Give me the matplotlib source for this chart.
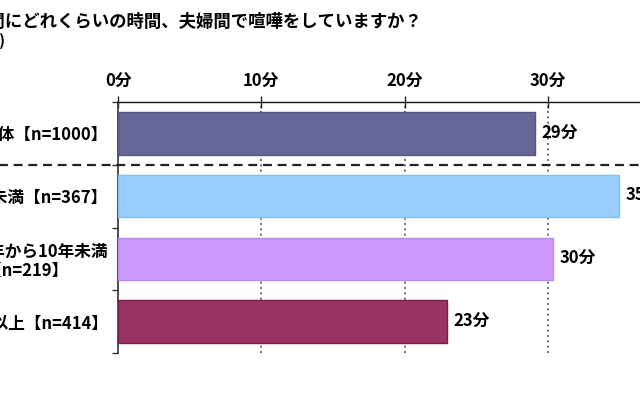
import matplotlib
matplotlib.use("Agg")
import matplotlib.pyplot as plt
from matplotlib.ticker import FixedLocator

plt.rcParams['font.family'] = ['Noto Sans CJK JP', 'DejaVu Sans']

# ---- data ----
categories = ["全体【n=1000】",
              "結婚5年未満【n=367】",
              "結婚5年から10年未満\n【n=219】",
              "結婚10年以上【n=414】"]
minutes = [29.1, 35.0, 30.4, 23.0]
value_labels = ["29分", "35分", "30分", "23分"]
tick_values = [0, 10, 20, 30]
tick_labels = ["0分", "10分", "20分", "30分"]
colors = ["#666699", "#99CCFF", "#CC99FF", "#993366"]
edge_colors = ["#55557f", "#80bff5", "#bb88ee", "#80184c"]
title = "Q. 1週間にどれくらいの時間、夫婦間で喧嘩をしていますか？"
subtitle = "(平均)"

fig = plt.figure(figsize=(6.4, 4.0), dpi=100)
ax = fig.add_axes([118/640, 47/400, 573/640, 251/400])

y = list(range(len(categories)))
ax.barh(y, minutes, height=0.68, color=colors, edgecolor=edge_colors,
        linewidth=1.0, zorder=3)

ax.set_xlim(0, 40)
ax.set_ylim(3.5, -0.5)

# gridlines (dotted)
for v in tick_values[1:]:
    ax.axvline(v, color="#555555", lw=1.2, linestyle=(0, (1.2, 2.0)), zorder=1)

# dashed separator between 全体 and others
ax.axhline(0.5, xmin=-0.3, xmax=1.0, color="#222222", lw=1.6,
           linestyle=(0, (4, 2.6)), clip_on=False, zorder=4)

# spines
for s in ["right", "bottom"]:
    ax.spines[s].set_visible(False)
ax.spines["top"].set_color("#111111")
ax.spines["top"].set_linewidth(1.0)
ax.spines["left"].set_color("#333333")
ax.spines["left"].set_linewidth(1.2)

# x ticks on top
ax.xaxis.set_ticks_position("top")
ax.set_xticks(tick_values)
ax.set_xticklabels(tick_labels, fontsize=12, fontweight="bold")
ax.tick_params(axis="x", direction="inout", length=8, width=1.0,
               color="#222222", pad=4)

# y: major ticks at category boundaries, labels on minor ticks
ax.yaxis.set_major_locator(FixedLocator([-0.5, 0.5, 1.5, 2.5, 3.5]))
ax.yaxis.set_ticklabels([])
ax.tick_params(axis="y", which="major", direction="out", length=4.5,
               width=1.0, color="#333333")
ax.yaxis.set_minor_locator(FixedLocator(y))
ax.set_yticklabels(categories, minor=True, fontsize=12, fontweight="bold")
ax.tick_params(axis="y", which="minor", length=0, pad=7)
for lab in ax.get_yticklabels(minor=True):
    lab.set_multialignment("center")
    lab.set_linespacing(1.05)

# value labels
for yi, v, t in zip(y, minutes, value_labels):
    ax.annotate(t, xy=(v, yi), xytext=(4.5, 0), textcoords="offset points",
                ha="left", va="center", fontsize=12, fontweight="bold")

fig.text(422/640, 1 - 21.5/400, title, ha="right", va="center",
         fontsize=12.5, fontweight="bold")
fig.text(6/640, 1 - 41/400, subtitle, ha="right", va="center",
         fontsize=11, fontweight="bold")

fig.savefig("out.png", dpi=100, facecolor="white")
